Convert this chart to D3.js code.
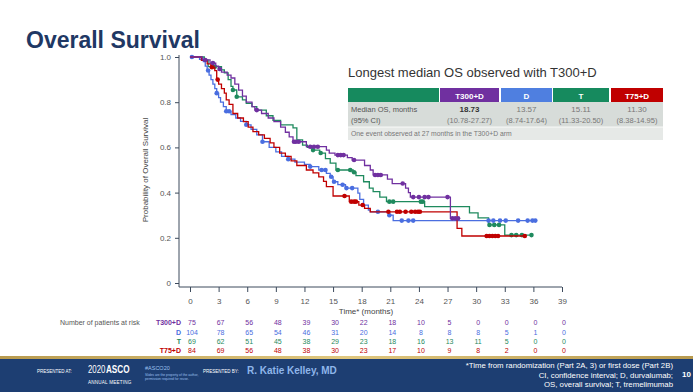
<!DOCTYPE html>
<html><head><meta charset="utf-8">
<script src="https://cdn.jsdelivr.net/npm/d3@7"></script>
<style>body{margin:0;background:#fff}svg{display:block;font-family:"Liberation Sans",Arial,sans-serif}</style>
</head><body><svg id="c" width="693" height="392"></svg>
<script>
// ---------- data ----------
const arms = ["T300+D","D","T","T75+D"];
const armColors = ["#7030A0","#4A6EE0","#1F8A5E","#C00000"];
const headerColors = ["#7030A0","#4F7FE0","#168A5E","#C00000"];
const xTicks = [0,3,6,9,12,15,18,21,24,27,30,33,36,39];
const yTicks = [0,0.2,0.4,0.6,0.8,1.0];
const yTickLabels = ["0","0.2","0.4","0.6","0.8","1.0"];

// Kaplan–Meier steps: [time, survival after step]
const t300dSteps = [[0,1],[1.3,0.987],[2.1,0.973],[2.7,0.96],[3.0,0.947],[3.3,0.933],[3.9,0.92],[4.3,0.907],[4.7,0.88],[5.1,0.853],[5.5,0.827],[5.9,0.80],[6.5,0.78],[6.8,0.765],[7.5,0.75],[8.2,0.73],[8.8,0.714],[9.5,0.69],[10.0,0.667],[10.4,0.647],[10.8,0.625],[12.2,0.603],[14.3,0.588],[14.6,0.575],[15.2,0.566],[16.5,0.555],[17.0,0.544],[18.3,0.52],[18.9,0.50],[19.2,0.478],[20.7,0.46],[21.2,0.44],[22.6,0.42],[22.9,0.40],[23.1,0.38],[27.3,0.286]];
const t300dEnd = 28.1;
const t300dCensor = [1.6,2.4,3.1,7.0,10.9,11.1,11.4,12.6,13.0,13.4,15.5,15.8,16.1,17.2,19.4,19.7,20.0,22.3,23.4,24.0,24.6,25.0,27.0,27.5,27.8,28.1];

const dSteps = [[0,1],[1.0,0.99],[1.4,0.98],[1.6,0.96],[1.8,0.94],[2.0,0.92],[2.2,0.90],[2.4,0.88],[2.6,0.86],[2.8,0.84],[3.0,0.82],[3.2,0.80],[3.5,0.78],[3.8,0.76],[4.3,0.745],[4.8,0.73],[5.3,0.715],[5.9,0.70],[6.4,0.68],[7.0,0.655],[7.6,0.625],[8.3,0.60],[9.0,0.58],[9.6,0.56],[10.3,0.548],[11.0,0.535],[12.0,0.525],[12.6,0.515],[13.5,0.50],[14.3,0.485],[14.7,0.47],[15.0,0.448],[15.5,0.435],[16.3,0.42],[17.6,0.398],[17.8,0.37],[18.2,0.345],[18.7,0.323],[18.9,0.315],[20.8,0.30],[21.3,0.276]];
const dEnd = 36.2;
const dCensor = [0.2,1.9,2.8,3.8,4.1,5.9,7.6,10.3,12.6,13.8,14.2,14.8,15.1,16.0,16.4,17.0,19.7,20.9,22.2,22.9,23.4,31.3,31.8,32.5,33.1,34.4,35.4,35.9,36.2];

const tSteps = [[0,1],[1.5,0.986],[1.9,0.957],[3.3,0.943],[3.6,0.93],[4.0,0.90],[4.3,0.87],[4.5,0.854],[4.9,0.824],[5.5,0.81],[5.9,0.795],[6.5,0.78],[7.0,0.765],[8.0,0.74],[8.7,0.72],[9.5,0.70],[10.8,0.686],[11.2,0.633],[11.8,0.61],[12.3,0.60],[12.8,0.588],[13.6,0.575],[14.2,0.55],[14.7,0.53],[15.3,0.50],[17.1,0.49],[17.4,0.475],[18.2,0.448],[18.8,0.42],[19.2,0.404],[19.9,0.38],[20.6,0.36],[24.6,0.338],[29.3,0.31],[30.2,0.288],[31.3,0.257],[33.0,0.212]];
const tEnd = 35.8;
const tCensor = [2.6,4.5,4.9,12.9,13.7,15.5,16.8,17.2,20.9,21.3,24.2,24.4,31.4,31.9,32.4,33.7,34.2,34.8,35.8];

const t75dSteps = [[0,1],[1.2,0.985],[1.8,0.97],[2.2,0.955],[2.6,0.94],[2.8,0.90],[3.0,0.88],[3.3,0.86],[3.6,0.84],[3.8,0.81],[4.1,0.79],[4.5,0.75],[5.0,0.73],[5.6,0.714],[6.1,0.69],[6.6,0.67],[7.2,0.655],[7.8,0.64],[8.4,0.62],[8.8,0.60],[9.4,0.575],[10.0,0.56],[10.6,0.54],[11.2,0.52],[12.2,0.50],[12.9,0.487],[13.5,0.47],[14.0,0.45],[14.3,0.426],[15.0,0.385],[16.7,0.36],[17.7,0.345],[18.3,0.33],[18.9,0.315],[28.0,0.242],[28.5,0.208]];
const t75dEnd = 35.1;
const t75dCensor = [2.3,2.9,16.2,16.9,17.2,17.4,18.1,20.8,21.7,22.0,22.6,23.2,23.6,23.9,24.1,31.1,31.4,31.7,32.0,32.3,35.1];

const t300dRisk = [75,67,56,48,39,30,22,18,10,5,0,0,0,0];
const dRisk = [104,78,65,54,46,31,20,14,8,8,8,5,1,0];
const tRisk = [69,62,51,45,38,29,23,18,16,13,11,5,0,0];
const t75dRisk = [84,69,56,48,38,30,23,17,10,9,8,2,0,0];

const medians = ["18.73","13.57","15.11","11.30"];
const medianCI = ["(10.78-27.27)","(8.74-17.64)","(11.33-20.50)","(8.38-14.95)"];

// ---------- drawing ----------
const svg = d3.select("#c");
const x = d3.scaleLinear().domain([0,39]).range([190,562]);
const y = d3.scaleLinear().domain([0,1]).range([283,57]);
const axisCol = "#3C4A5C", tickTxt = "#555";

// title
svg.append("text").attr("x",26).attr("y",48).attr("font-size",23).attr("font-weight","bold")
  .attr("fill","#1F3864").text("Overall Survival");

// axes
const xa = svg.append("g").attr("transform","translate(0,287)")
  .call(d3.axisBottom(x).tickValues(xTicks).tickSize(5).tickPadding(6).tickFormat(d3.format("d")));
xa.select(".domain").attr("d","M179,0H562").attr("stroke",axisCol);
const ya = svg.append("g").attr("transform","translate(179,0)")
  .call(d3.axisLeft(y).tickValues(yTicks).tickSize(4).tickPadding(4).tickFormat((d,i)=>yTickLabels[i]));
ya.select(".domain").attr("d","M0,55V287").attr("stroke",axisCol);
[xa,ya].forEach(a=>{a.selectAll(".tick line").attr("stroke",axisCol);
  a.selectAll("text").attr("font-size",8).attr("fill",tickTxt).attr("font-family","Liberation Sans, Arial");});

svg.append("text").attr("transform","translate(148,170) rotate(-90)").attr("text-anchor","middle")
  .attr("font-size",8).attr("fill","#444").text("Probability of Overall Survival");
svg.append("text").attr("x",366).attr("y",314).attr("text-anchor","middle")
  .attr("font-size",8).attr("fill","#444").text("Time* (months)");

// curves
const series = [
  {steps:t300dSteps,end:t300dEnd,cens:t300dCensor},
  {steps:dSteps,end:dEnd,cens:dCensor},
  {steps:tSteps,end:tEnd,cens:tCensor},
  {steps:t75dSteps,end:t75dEnd,cens:t75dCensor}
];
const line = d3.line().x(d=>x(d[0])).y(d=>y(d[1])).curve(d3.curveStepAfter);
function survAt(steps,t){let s=1;for(const p of steps){if(p[0]<=t)s=p[1];}return s;}
// draw order: green, blue, red, purple on top
[2,1,3,0].forEach(i=>{
  const s = series[i];
  const pts = s.steps.concat([[s.end, s.steps[s.steps.length-1][1]]]);
  svg.append("path").attr("d",line(pts)).attr("fill","none").attr("stroke",armColors[i]).attr("stroke-width",1.3);
  svg.append("g").selectAll("circle").data(s.cens).join("circle")
    .attr("cx",d=>x(d)).attr("cy",d=>y(survAt(s.steps,d))).attr("r",2.3).attr("fill",armColors[i]);
});

// at-risk table
const risks = [t300dRisk,dRisk,tRisk,t75dRisk];
const riskY = [325,335,344,353];
svg.append("text").attr("x",60).attr("y",riskY[0]).attr("font-size",7).attr("fill","#555").text("Number of patients at risk");
arms.forEach((a,i)=>{
  svg.append("text").attr("x",181).attr("y",riskY[i]).attr("text-anchor","end").attr("font-size",7)
    .attr("font-weight","bold").attr("fill",armColors[i]).text(a);
  svg.append("g").selectAll("text").data(risks[i]).join("text")
    .attr("x",(d,j)=>x(xTicks[j])+2).attr("y",riskY[i]).attr("text-anchor","middle")
    .attr("font-size",7).attr("fill",armColors[i]).text(d=>d);
});

// median table
const tb = svg.append("g");
tb.append("text").attr("x",348).attr("y",77).attr("font-size",13).attr("fill","#333")
  .text("Longest median OS observed with T300+D");
const colX = [[440,499],[501,552],[553,609],[611,663]];
tb.append("rect").attr("x",348).attr("y",88).attr("width",91).attr("height",14).attr("fill","#168A5E");
tb.append("rect").attr("x",348).attr("y",102).attr("width",315).attr("height",25).attr("fill","#D7DCD9");
tb.append("rect").attr("x",348).attr("y",127).attr("width",315).attr("height",13).attr("fill","#E6E9E7");
arms.forEach((a,i)=>{
  const [x0,x1]=colX[i], cx=(x0+x1)/2;
  tb.append("rect").attr("x",x0).attr("y",88).attr("width",x1-x0).attr("height",14).attr("fill",headerColors[i]);
  tb.append("text").attr("x",cx).attr("y",98.5).attr("text-anchor","middle").attr("font-size",8)
    .attr("font-weight","bold").attr("fill","#fff").text(a);
  tb.append("text").attr("x",cx).attr("y",112).attr("text-anchor","middle").attr("font-size",8)
    .attr("font-weight",i===0?"bold":"normal").attr("fill",i===0?"#333":"#777").text(medians[i]);
  tb.append("text").attr("x",cx).attr("y",123).attr("text-anchor","middle").attr("font-size",7.5)
    .attr("fill","#777").text(medianCI[i]);
});
tb.append("line").attr("x1",348).attr("x2",663).attr("y1",127).attr("y2",127).attr("stroke","#fff").attr("stroke-width",0.8);
tb.append("text").attr("x",351).attr("y",112).attr("font-size",7.5).attr("fill","#555").text("Median OS, months");
tb.append("text").attr("x",351).attr("y",123).attr("font-size",7.5).attr("fill","#555").text("(95% CI)");
tb.append("text").attr("x",351).attr("y",136).attr("font-size",6.8).attr("fill","#777")
  .text("One event observed at 27 months in the T300+D arm");

// footer
const grad = svg.append("defs").append("linearGradient").attr("id","gold").attr("x1",0).attr("x2",1);
grad.append("stop").attr("offset",0).attr("stop-color","#B89A4E");
grad.append("stop").attr("offset",0.5).attr("stop-color","#E0C77E");
grad.append("stop").attr("offset",1).attr("stop-color","#B89A4E");
svg.append("rect").attr("x",0).attr("y",356).attr("width",693).attr("height",3).attr("fill","url(#gold)");
svg.append("rect").attr("x",0).attr("y",359).attr("width",693).attr("height",33).attr("fill","#1D3E72");
const ft = svg.append("g").attr("fill","#fff");
ft.append("text").attr("x",37).attr("y",373).attr("font-size",4.5).text("PRESENTED AT:");
const logo = ft.append("g").attr("transform","translate(88,373) scale(0.78,1)");
logo.append("text").attr("x",0).attr("y",0).attr("font-size",10).text("2020");
logo.append("text").attr("x",23).attr("y",0).attr("font-size",10.5).attr("font-weight","bold").text("ASCO");
ft.append("text").attr("x",88).attr("y",383.5).attr("font-size",4.6).attr("letter-spacing",0.2).text("ANNUAL MEETING");
ft.append("text").attr("x",145).attr("y",370).attr("font-size",5.5).attr("fill","#9CC0EE").text("#ASCO20");
ft.append("text").attr("x",145).attr("y",376).attr("font-size",3.3).attr("fill","#9CC0EE").text("Slides are the property of the author,");
ft.append("text").attr("x",145).attr("y",380).attr("font-size",3.3).attr("fill","#9CC0EE").text("permission required for reuse.");
ft.append("text").attr("x",203).attr("y",373).attr("font-size",4.5).text("PRESENTED BY:");
ft.append("text").attr("x",247).attr("y",374).attr("font-size",10).attr("font-weight","bold").attr("fill","#8FB6EA")
  .text("R. Katie Kelley, MD");
const notes = ["*Time from randomization (Part 2A, 3) or first dose (Part 2B)","CI, confidence interval; D, durvalumab;","OS, overall survival; T, tremelimumab"];
ft.selectAll(".n").data(notes).join("text").attr("x",673).attr("y",(d,i)=>368+i*9.5)
  .attr("text-anchor","end").attr("font-size",7.8).text(d=>d);
ft.append("text").attr("x",682).attr("y",377).attr("font-size",8).attr("font-weight","bold").text("10");
</script></body></html>
